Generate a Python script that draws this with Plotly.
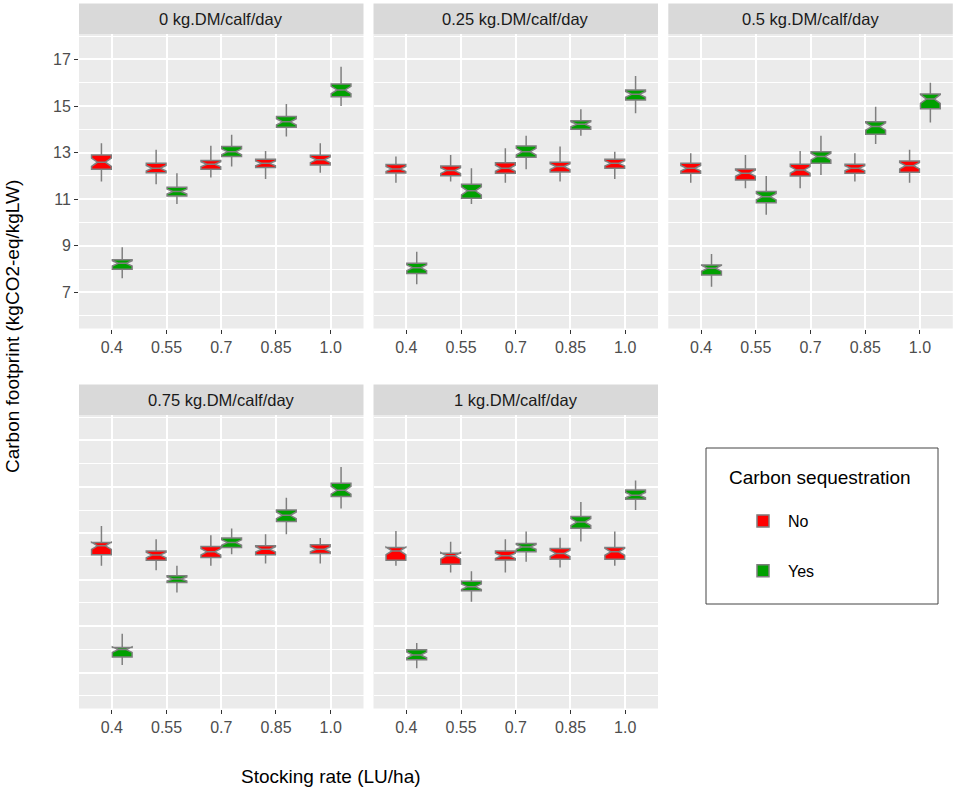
import plotly.graph_objects as go

# ---------------- data ----------------
PANELS = ["0 kg.DM/calf/day", "0.25 kg.DM/calf/day", "0.5 kg.DM/calf/day",
          "0.75 kg.DM/calf/day", "1 kg.DM/calf/day"]
CATEGORIES = ["0.4", "0.55", "0.7", "0.85", "1.0"]
GROUPS = ["No", "Yes"]
Y_TICKS = [7, 9, 11, 13, 15, 17]

# one row per panel, one value per stocking rate
NO_LOW = [[11.76, 11.64, 11.93, 11.87, 12.14],
          [11.71, 11.76, 11.71, 11.76, 11.87],
          [11.71, 11.47, 11.47, 11.76, 11.71],
          [11.60, 11.41, 11.60, 11.70, 11.70],
          [11.60, 11.31, 11.31, 11.53, 11.60]]
NO_Q1 = [[12.29, 12.14, 12.29, 12.36, 12.47],
         [12.13, 12.01, 12.12, 12.17, 12.33],
         [12.12, 11.83, 12.00, 12.12, 12.16],
         [12.07, 11.84, 11.96, 12.07, 12.13],
         [11.84, 11.67, 11.85, 11.88, 11.88]]
NO_MED = [[12.59, 12.33, 12.50, 12.54, 12.69],
          [12.30, 12.23, 12.33, 12.40, 12.54],
          [12.33, 12.12, 12.26, 12.33, 12.44],
          [12.46, 12.06, 12.20, 12.31, 12.31],
          [12.24, 12.03, 12.03, 12.13, 12.20]]
NO_Q3 = [[12.90, 12.55, 12.66, 12.72, 12.89],
         [12.49, 12.43, 12.57, 12.59, 12.72],
         [12.54, 12.30, 12.50, 12.50, 12.64],
         [12.60, 12.24, 12.43, 12.46, 12.50],
         [12.39, 12.14, 12.24, 12.34, 12.39]]
NO_HIGH = [[13.40, 13.12, 13.30, 13.07, 13.40],
           [12.83, 12.90, 13.19, 13.26, 13.04],
           [12.97, 12.90, 13.07, 12.97, 13.12],
           [13.31, 12.74, 12.91, 12.96, 12.79],
           [13.10, 12.63, 12.74, 12.81, 13.07]]

YES_LOW = [[7.61, 10.80, 12.40, 13.69, 15.00],
           [7.35, 10.80, 12.29, 13.72, 14.69],
           [7.25, 10.33, 12.04, 13.37, 14.29],
           [7.33, 10.45, 12.10, 12.96, 14.06],
           [7.19, 10.05, 11.77, 12.64, 14.00]]
YES_Q1 = [[8.00, 11.14, 12.83, 14.09, 15.40],
          [7.82, 11.04, 12.80, 14.00, 15.26],
          [7.75, 10.85, 12.54, 13.79, 14.88],
          [7.67, 10.88, 12.39, 13.50, 14.58],
          [7.55, 10.52, 12.20, 13.21, 14.46]]
YES_MED = [[8.25, 11.33, 13.04, 14.32, 15.69],
           [8.06, 11.36, 13.04, 14.22, 15.50],
           [8.04, 11.11, 12.83, 14.12, 15.30],
           [7.99, 11.03, 12.60, 13.77, 14.85],
           [7.76, 10.70, 12.41, 13.48, 14.64]]
YES_Q3 = [[8.40, 11.51, 13.26, 14.55, 15.94],
          [8.25, 11.64, 13.29, 14.37, 15.69],
          [8.18, 11.33, 13.04, 14.33, 15.52],
          [8.08, 11.17, 12.79, 14.00, 15.15],
          [7.98, 10.93, 12.56, 13.72, 14.86]]
YES_HIGH = [[8.94, 12.12, 13.77, 15.09, 16.69],
            [8.75, 12.33, 13.72, 14.86, 16.29],
            [8.65, 12.00, 13.72, 14.97, 16.00],
            [8.67, 11.60, 13.20, 14.53, 15.85],
            [8.27, 11.36, 13.07, 14.34, 15.27]]

N_RUNS = 30  # simulations per box, used for the ggplot-style notch

# ---------------- styling ----------------
W, H = 957, 790
FILL = {"No": "#FF0000", "Yes": "#00A000"}
LINE = "#7F7F7F"
FONT = "Liberation Sans, Arial, sans-serif"

STATS = {"No": (NO_LOW, NO_Q1, NO_MED, NO_Q3, NO_HIGH),
         "Yes": (YES_LOW, YES_Q1, YES_MED, YES_Q3, YES_HIGH)}

# panel pixel boxes (left, right, top, bottom)
PANEL_PX = [(79, 363.5, 34, 328.5), (373.5, 658, 34, 328.5), (668.3, 952.8, 34, 328.5),
            (79, 363.5, 415, 708.5), (373.5, 658, 415, 708.5)]
STRIP_H = 30.5

fig = go.Figure()

for p, name in enumerate(PANELS):
    ax = "" if p == 0 else str(p + 1)
    for g in GROUPS:
        lo, q1, med, q3, hi = (s[p] for s in STATS[g])
        notch = [1.58 * (b - a) / N_RUNS ** 0.5 for a, b in zip(q1, q3)]
        fig.add_trace(go.Box(
            x=CATEGORIES, q1=q1, median=med, q3=q3,
            lowerfence=lo, upperfence=hi, notchspan=notch,
            notched=True, notchwidth=0.3, whiskerwidth=0,
            fillcolor=FILL[g], line=dict(color=LINE, width=1.5),
            name=g, legendgroup=g, showlegend=(p == 0),
            offsetgroup=g, xaxis="x" + ax, yaxis="y" + ax,
            hoverinfo="skip"))

    l, r, t, b = PANEL_PX[p]
    xd = [l / W, r / W]
    yd = [1 - b / H, 1 - t / H]
    left_col = p == 0
    fig.layout["xaxis" + ax] = dict(
        domain=xd, anchor="y" + ax, type="category",
        categoryorder="array", categoryarray=CATEGORIES,
        range=[-0.6, 4.6], showgrid=True, gridcolor="white", gridwidth=2,
        ticks="outside", ticklen=4, tickwidth=1, tickcolor="#333333",
        tickfont=dict(family=FONT, size=16, color="#4D4D4D"),
        zeroline=False, showline=False, fixedrange=True)
    fig.layout["yaxis" + ax] = dict(
        domain=yd, anchor="x" + ax, range=[5.455, 18.09],
        tickvals=Y_TICKS, showticklabels=left_col,
        ticks="outside" if left_col else "", ticklen=4, tickwidth=1,
        tickcolor="#333333",
        tickfont=dict(family=FONT, size=16, color="#4D4D4D"),
        showgrid=True, gridcolor="white", gridwidth=2,
        minor=dict(dtick=1, tick0=6, showgrid=True, gridcolor="white",
                   gridwidth=1, ticks=""),
        zeroline=False, showline=False, fixedrange=True)

    # facet strip
    fig.add_shape(type="rect", xref="paper", yref="paper",
                  x0=l / W, x1=r / W, y0=1 - t / H, y1=1 - (t - STRIP_H) / H,
                  fillcolor="#D9D9D9", line=dict(width=0), layer="below")
    fig.add_annotation(text=name, xref="paper", yref="paper",
                       x=(l + r) / 2 / W, y=1 - (t - STRIP_H / 2) / H,
                       showarrow=False, xanchor="center", yanchor="middle",
                       font=dict(family=FONT, size=16.5, color="#1A1A1A"))

# axis titles
fig.add_annotation(text="Stocking rate (LU/ha)", xref="paper", yref="paper",
                   x=331 / W, y=1 - 776 / H, showarrow=False,
                   xanchor="center", yanchor="middle",
                   font=dict(family=FONT, size=19, color="black"))
fig.add_annotation(text="Carbon footprint (kgCO2-eq/kgLW)", xref="paper", yref="paper",
                   x=12 / W, y=1 - 327 / H, showarrow=False, textangle=-90,
                   xanchor="center", yanchor="middle",
                   font=dict(family=FONT, size=19, color="black"))

# legend frame and title
fig.add_shape(type="rect", xref="paper", yref="paper",
              x0=706 / W, x1=938 / W, y0=1 - 604 / H, y1=1 - 448 / H,
              fillcolor="white", line=dict(color="#444444", width=1), layer="below")
fig.add_annotation(text="Carbon sequestration", xref="paper", yref="paper",
                   x=727 / W, y=1 - 477 / H, showarrow=False,
                   xanchor="left", yanchor="middle",
                   font=dict(family=FONT, size=19, color="black"))

fig.update_layout(
    width=W, height=H, margin=dict(l=0, r=0, t=0, b=0),
    paper_bgcolor="white", plot_bgcolor="#EBEBEB",
    boxmode="group", boxgap=0.24, boxgroupgap=0.05,
    legend=dict(x=738 / W, y=1 - 504 / H, xanchor="left", yanchor="top",
                bgcolor="rgba(0,0,0,0)", borderwidth=0,
                font=dict(family=FONT, size=16, color="black"),
                tracegroupgap=26, itemwidth=40),
    showlegend=True,
)

fig.write_html("out.html",
               config={"displayModeBar": False},
               post_script="document.body.style.margin='0px';"
                           "document.body.style.overflow='hidden';")
